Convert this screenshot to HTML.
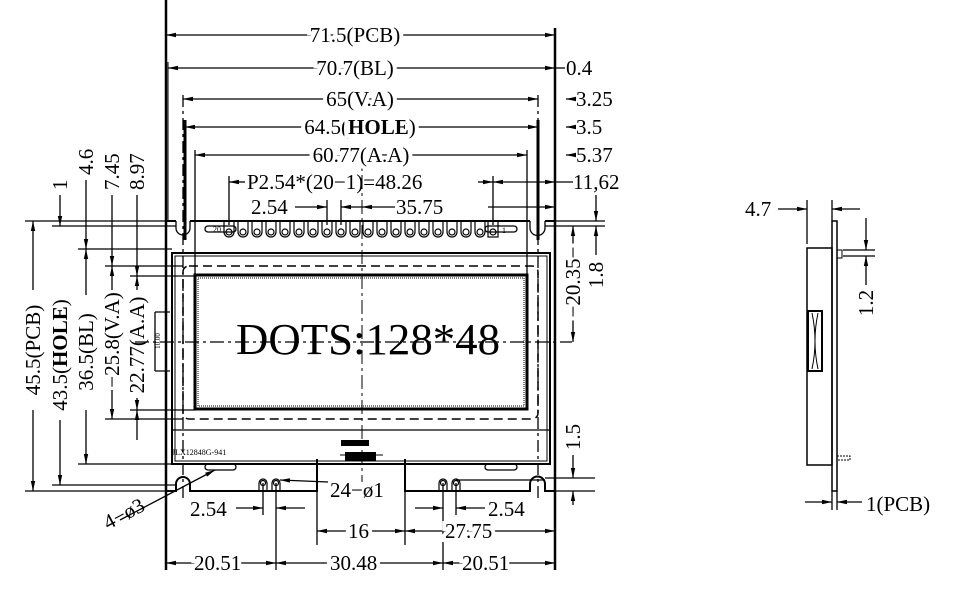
<!DOCTYPE html>
<html><head><meta charset="utf-8"><style>
html,body{margin:0;padding:0;background:#fff;}
svg{display:block;}
text{font-family:"Liberation Serif",serif;fill:#000;}
</style></head><body>
<svg width="957" height="589" viewBox="0 0 957 589" xmlns="http://www.w3.org/2000/svg">
<defs>
<marker id="a" viewBox="0 0 10 6" refX="10" refY="3" markerWidth="10" markerHeight="6" markerUnits="userSpaceOnUse" orient="auto-start-reverse"><path d="M0,0.8 L10,3 L0,5.2 Z" fill="#000"/></marker>
</defs>
<g stroke="#000" fill="none" stroke-width="1.3">
<path d="M166,221 H176 M190,221 H530 M545,221 H555" stroke-width="2"/>
<path d="M176,221 V228 A7,7 0 0 0 190,228 V221" />
<path d="M530,221 V228 A7,7 0 0 0 545,228 V221" />
<line x1="166" y1="0" x2="166" y2="570" stroke-width="2.5"/>
<line x1="555" y1="28" x2="555" y2="570" stroke-width="2.5"/>
<path d="M166,491 H176 V484 A7,7 0 0 1 190,484 V491 H317 V459 M405,459 V491 H530 V484 A7,7 0 0 1 545,484 V491 H555" stroke-width="2"/>
<line x1="317" y1="459" x2="317" y2="545"/>
<line x1="405" y1="459" x2="405" y2="545"/>
<rect x="172" y="253" width="378" height="211" stroke-width="2"/>
<rect x="175" y="256" width="372" height="205" stroke-width="1"/>
<line x1="172" y1="430" x2="550" y2="430"/>
<rect x="183" y="266" width="355" height="153" rx="6" stroke-dasharray="9,5" stroke-width="1.5"/>
<rect x="195" y="275" width="332" height="134" stroke-width="3"/>
<rect x="198" y="278" width="326" height="128" stroke-width="1" stroke-dasharray="1,1"/>
<line x1="183" y1="95" x2="183" y2="500" stroke-dasharray="12,4,3,4"/>
<line x1="538" y1="95" x2="538" y2="500" stroke-dasharray="12,4,3,4"/>
<line x1="185" y1="120" x2="185" y2="240" stroke-width="3"/>
<line x1="538" y1="120" x2="538" y2="240" stroke-width="3"/>
<line x1="195" y1="150" x2="195" y2="275"/>
<line x1="527" y1="150" x2="527" y2="275"/>
<line x1="168" y1="62" x2="168" y2="221" stroke-width="1"/>
<line x1="362" y1="150" x2="362" y2="482" stroke-dasharray="14,4,3,4" stroke-width="1"/>
<line x1="135" y1="342" x2="572" y2="342" stroke-dasharray="14,4,3,4" stroke-width="1.3"/>
<rect x="205" y="226" width="31" height="6" rx="3"/>
<rect x="485" y="226" width="32" height="6" rx="3"/>
<rect x="205" y="464" width="31" height="6" rx="3"/>
<rect x="485" y="464" width="32" height="6" rx="3"/>
</g>
<g stroke="#000" fill="none" stroke-width="1.2">
<path d="M224,221 V232 A5,5 0 0 0 234,232 V221 M238,221 V232 A5,5 0 0 0 248,232 V221 M252,221 V232 A5,5 0 0 0 262,232 V221 M266,221 V232 A5,5 0 0 0 276,232 V221 M280,221 V232 A5,5 0 0 0 290,232 V221 M294,221 V232 A5,5 0 0 0 304,232 V221 M308,221 V232 A5,5 0 0 0 318,232 V221 M322,221 V232 A5,5 0 0 0 332,232 V221 M336,221 V232 A5,5 0 0 0 346,232 V221 M350,221 V232 A5,5 0 0 0 360,232 V221 M363,221 V232 A5,5 0 0 0 373,232 V221 M377,221 V232 A5,5 0 0 0 387,232 V221 M391,221 V232 A5,5 0 0 0 401,232 V221 M405,221 V232 A5,5 0 0 0 415,232 V221 M419,221 V232 A5,5 0 0 0 429,232 V221 M433,221 V232 A5,5 0 0 0 443,232 V221 M447,221 V232 A5,5 0 0 0 457,232 V221 M461,221 V232 A5,5 0 0 0 471,232 V221 M475,221 V232 A5,5 0 0 0 485,232 V221"/>
<circle cx="229" cy="232" r="3"/><circle cx="243" cy="232" r="3"/><circle cx="257" cy="232" r="3"/><circle cx="271" cy="232" r="3"/><circle cx="285" cy="232" r="3"/><circle cx="299" cy="232" r="3"/><circle cx="313" cy="232" r="3"/><circle cx="327" cy="232" r="3"/><circle cx="341" cy="232" r="3"/><circle cx="355" cy="232" r="3"/><circle cx="368" cy="232" r="3"/><circle cx="382" cy="232" r="3"/><circle cx="396" cy="232" r="3"/><circle cx="410" cy="232" r="3"/><circle cx="424" cy="232" r="3"/><circle cx="438" cy="232" r="3"/><circle cx="452" cy="232" r="3"/><circle cx="466" cy="232" r="3"/><circle cx="480" cy="232" r="3"/>
<rect x="488" y="221" width="10" height="16"/><circle cx="493" cy="232" r="3"/>
<path d="M259,491 V483 A4,4 0 0 1 267,483 V491 M272,491 V483 A4,4 0 0 1 280,483 V491 M439,491 V483 A4,4 0 0 1 447,483 V491 M452,491 V483 A4,4 0 0 1 460,483 V491"/>
<circle cx="263" cy="483" r="2.5"/><circle cx="276" cy="483" r="2.5"/><circle cx="443" cy="483" r="2.5"/><circle cx="456" cy="483" r="2.5"/>
</g>
<text x="213" y="232" font-size="8" fill="#555">20</text>
<text x="502" y="233" font-size="8" fill="#888">1</text>
<text x="172" y="455" font-size="8">JLX12848G-941</text>
<rect x="341" y="440" width="28" height="6" fill="#000"/>
<rect x="345" y="452" width="31" height="9" fill="#000"/>
<line x1="340" y1="455" x2="383" y2="455" stroke="#000"/>
<text x="236" y="354" font-size="44" textLength="264" lengthAdjust="spacingAndGlyphs">DOTS:128*48</text>

<g stroke="#000" stroke-width="1.3" fill="none">
<line x1="166" y1="35" x2="555" y2="35" marker-start="url(#a)" marker-end="url(#a)"/>
<line x1="168" y1="68" x2="555" y2="68" marker-start="url(#a)" marker-end="url(#a)"/>
<line x1="555" y1="68" x2="565" y2="68"/>
<line x1="183" y1="99" x2="538" y2="99" marker-start="url(#a)" marker-end="url(#a)"/>
<line x1="566" y1="99" x2="575" y2="99" marker-start="url(#a)"/>
<line x1="185" y1="127" x2="538" y2="127" marker-start="url(#a)" marker-end="url(#a)"/>
<line x1="566" y1="127" x2="575" y2="127" marker-start="url(#a)"/>
<line x1="195" y1="155" x2="527" y2="155" marker-start="url(#a)" marker-end="url(#a)"/>
<line x1="566" y1="155" x2="575" y2="155" marker-start="url(#a)"/>
<line x1="229" y1="182" x2="245" y2="182" marker-start="url(#a)"/>
<line x1="229" y1="176" x2="229" y2="225"/>
<line x1="478" y1="182" x2="493" y2="182" marker-end="url(#a)"/>
<line x1="493" y1="176" x2="493" y2="225"/>
<line x1="493" y1="182" x2="555" y2="182" marker-start="url(#a)" marker-end="url(#a)"/>
<line x1="555" y1="182" x2="573" y2="182"/>
<line x1="295" y1="207" x2="327" y2="207" marker-end="url(#a)"/>
<line x1="327" y1="200" x2="327" y2="225"/><line x1="341" y1="200" x2="341" y2="225"/>
<line x1="362" y1="207" x2="341" y2="207" marker-end="url(#a)"/>
<line x1="362" y1="207" x2="395" y2="207" marker-start="url(#a)"/>
<line x1="488" y1="207" x2="555" y2="207" marker-end="url(#a)"/>
<line x1="555" y1="221" x2="605" y2="221"/>
<line x1="545" y1="226" x2="605" y2="226"/>
<line x1="596" y1="195" x2="596" y2="221" marker-end="url(#a)"/>
<line x1="596" y1="255" x2="596" y2="226" marker-end="url(#a)"/>
<line x1="573" y1="226" x2="573" y2="342" marker-start="url(#a)" marker-end="url(#a)"/>
<line x1="573" y1="455" x2="573" y2="478" marker-end="url(#a)"/>
<line x1="573" y1="505" x2="573" y2="491" marker-end="url(#a)"/>
<line x1="545" y1="478" x2="595" y2="478"/>
<line x1="555" y1="491" x2="595" y2="491"/>
<line x1="25" y1="221" x2="166" y2="221"/>
<line x1="52" y1="226" x2="176" y2="226"/>
<line x1="78" y1="249" x2="172" y2="249"/>
<line x1="105" y1="266" x2="183" y2="266"/>
<line x1="130" y1="276" x2="195" y2="276"/>
<line x1="25" y1="491" x2="166" y2="491"/>
<line x1="52" y1="485" x2="176" y2="485"/>
<line x1="78" y1="464" x2="200" y2="464"/>
<line x1="105" y1="419" x2="183" y2="419"/>
<line x1="130" y1="410" x2="195" y2="410"/>
<line x1="33" y1="290" x2="33" y2="221" marker-end="url(#a)"/>
<line x1="33" y1="410" x2="33" y2="491" marker-end="url(#a)"/>
<line x1="60" y1="195" x2="60" y2="226" marker-end="url(#a)"/>
<line x1="60" y1="420" x2="60" y2="485" marker-end="url(#a)"/>
<line x1="86" y1="180" x2="86" y2="249" marker-end="url(#a)"/>
<line x1="86" y1="249" x2="86" y2="295" marker-start="url(#a)"/>
<line x1="86" y1="410" x2="86" y2="464" marker-end="url(#a)"/>
<line x1="112" y1="195" x2="112" y2="266" marker-end="url(#a)"/>
<line x1="112" y1="266" x2="112" y2="290" marker-start="url(#a)"/>
<line x1="112" y1="390" x2="112" y2="419" marker-end="url(#a)"/>
<line x1="137" y1="195" x2="137" y2="276" marker-end="url(#a)"/>
<line x1="137" y1="276" x2="137" y2="290" marker-start="url(#a)"/>
<line x1="137" y1="398" x2="137" y2="410" marker-end="url(#a)"/>
<line x1="137" y1="410" x2="137" y2="440" marker-start="url(#a)"/>
<path d="M155,312 V371 M155,312 H170 M155,371 H170"/>
<line x1="236" y1="508" x2="263" y2="508" marker-end="url(#a)"/>
<line x1="263" y1="483" x2="263" y2="515"/><line x1="276" y1="483" x2="276" y2="570"/>
<line x1="305" y1="508" x2="276" y2="508" marker-end="url(#a)"/>
<line x1="415" y1="508" x2="443" y2="508" marker-end="url(#a)"/>
<line x1="443" y1="483" x2="443" y2="570"/><line x1="456" y1="483" x2="456" y2="515"/>
<line x1="485" y1="508" x2="456" y2="508" marker-end="url(#a)"/>
<line x1="317" y1="531" x2="405" y2="531" marker-start="url(#a)" marker-end="url(#a)"/>
<line x1="405" y1="531" x2="555" y2="531" marker-start="url(#a)" marker-end="url(#a)"/>
<line x1="166" y1="563" x2="276" y2="563" marker-start="url(#a)" marker-end="url(#a)"/>
<line x1="276" y1="563" x2="443" y2="563" marker-start="url(#a)" marker-end="url(#a)"/>
<line x1="443" y1="563" x2="555" y2="563" marker-start="url(#a)" marker-end="url(#a)"/>
<line x1="328" y1="482" x2="280" y2="480" marker-end="url(#a)"/>
<line x1="456" y1="480" x2="545" y2="480"/>
<line x1="120" y1="520" x2="215" y2="470" marker-end="url(#a)"/>
<rect x="807" y="248" width="25" height="217" stroke-width="1.5"/>
<rect x="832" y="221" width="5" height="270" stroke-width="1.5"/>
<rect x="837" y="250" width="5" height="8" stroke-width="1"/>
<rect x="808" y="311" width="14" height="60" stroke-width="2"/>
<path d="M812,313 Q818,341 812,369 M818,313 Q812,341 818,369" stroke-width="1"/>
<rect x="837" y="456" width="13" height="4" stroke-width="1" stroke-dasharray="2,1"/>
<line x1="807" y1="200" x2="807" y2="244"/>
<line x1="832" y1="200" x2="832" y2="221"/>
<line x1="778" y1="209" x2="807" y2="209" marker-end="url(#a)"/>
<line x1="860" y1="209" x2="832" y2="209" marker-end="url(#a)"/>
<line x1="843" y1="250" x2="875" y2="250"/>
<line x1="843" y1="256" x2="875" y2="256"/>
<line x1="866" y1="218" x2="866" y2="250" marker-end="url(#a)"/>
<line x1="866" y1="285" x2="866" y2="256" marker-end="url(#a)"/>
<line x1="832" y1="491" x2="832" y2="510"/><line x1="837" y1="491" x2="837" y2="510"/>
<line x1="805" y1="502" x2="832" y2="502" marker-end="url(#a)"/>
<line x1="862" y1="502" x2="837" y2="502" marker-end="url(#a)"/>
</g>
<g font-size="21">
<text x="355" y="42" text-anchor="middle" stroke="#fff" stroke-width="8" paint-order="stroke">71.5(PCB)</text>
<text x="355" y="75" text-anchor="middle" stroke="#fff" stroke-width="8" paint-order="stroke">70.7(BL)</text>
<text x="566" y="75">0.4</text>
<text x="360" y="106" text-anchor="middle" stroke="#fff" stroke-width="8" paint-order="stroke">65(V.A)</text>
<text x="576" y="106">3.25</text>
<text x="360" y="134" text-anchor="middle" stroke="#fff" stroke-width="8" paint-order="stroke">64.5(<tspan font-weight="bold">HOLE</tspan>)</text>
<text x="576" y="134">3.5</text>
<text x="361" y="162" text-anchor="middle" stroke="#fff" stroke-width="8" paint-order="stroke">60.77(A.A)</text>
<text x="576" y="162">5.37</text>
<text x="247" y="189">P2.54*(20−1)=48.26</text>
<text x="573" y="189">11,62</text>
<text x="251" y="214">2.54</text>
<text x="396" y="214">35.75</text>
<text x="190" y="516">2.54</text>
<text x="488" y="516">2.54</text>
<text x="330" y="497">24−ø1</text>
<text x="348" y="538" stroke="#fff" stroke-width="8" paint-order="stroke">16</text>
<text x="445" y="538" stroke="#fff" stroke-width="8" paint-order="stroke">27.75</text>
<text x="194" y="570" stroke="#fff" stroke-width="8" paint-order="stroke">20.51</text>
<text x="330" y="570" stroke="#fff" stroke-width="8" paint-order="stroke">30.48</text>
<text x="462" y="570" stroke="#fff" stroke-width="8" paint-order="stroke">20.51</text>
<text x="745" y="216">4.7</text>
<text x="866" y="511">1(PCB)</text>
<text transform="translate(108,530) rotate(-28)">4−ø3</text>
<text transform="translate(40,350) rotate(-90)" text-anchor="middle">45.5(PCB)</text>
<text transform="translate(67,355) rotate(-90)" text-anchor="middle">43.5(<tspan font-weight="bold">HOLE</tspan>)</text>
<text transform="translate(93,352) rotate(-90)" text-anchor="middle">36.5(BL)</text>
<text transform="translate(119,340) rotate(-90)" text-anchor="middle">−25.8(V.A)</text>
<text transform="translate(144,345) rotate(-90)" text-anchor="middle">22.77(A.A)</text>
<text transform="translate(67,190) rotate(-90)">1</text>
<text transform="translate(93,175) rotate(-90)">4.6</text>
<text transform="translate(119,190) rotate(-90)">7.45</text>
<text transform="translate(144,190) rotate(-90)">8.97</text>
<text transform="translate(580,282) rotate(-90)" text-anchor="middle" stroke="#fff" stroke-width="8" paint-order="stroke">−20.35−</text>
<text transform="translate(603,275) rotate(-90)" text-anchor="middle">1.8</text>
<text transform="translate(580,437) rotate(-90)" text-anchor="middle">1.5</text>
<text transform="translate(873,303) rotate(-90)" text-anchor="middle">1.2</text>
</g>
<text transform="translate(160,341) rotate(-90)" text-anchor="middle" font-size="7">10.00</text>
</svg>
</body></html>
